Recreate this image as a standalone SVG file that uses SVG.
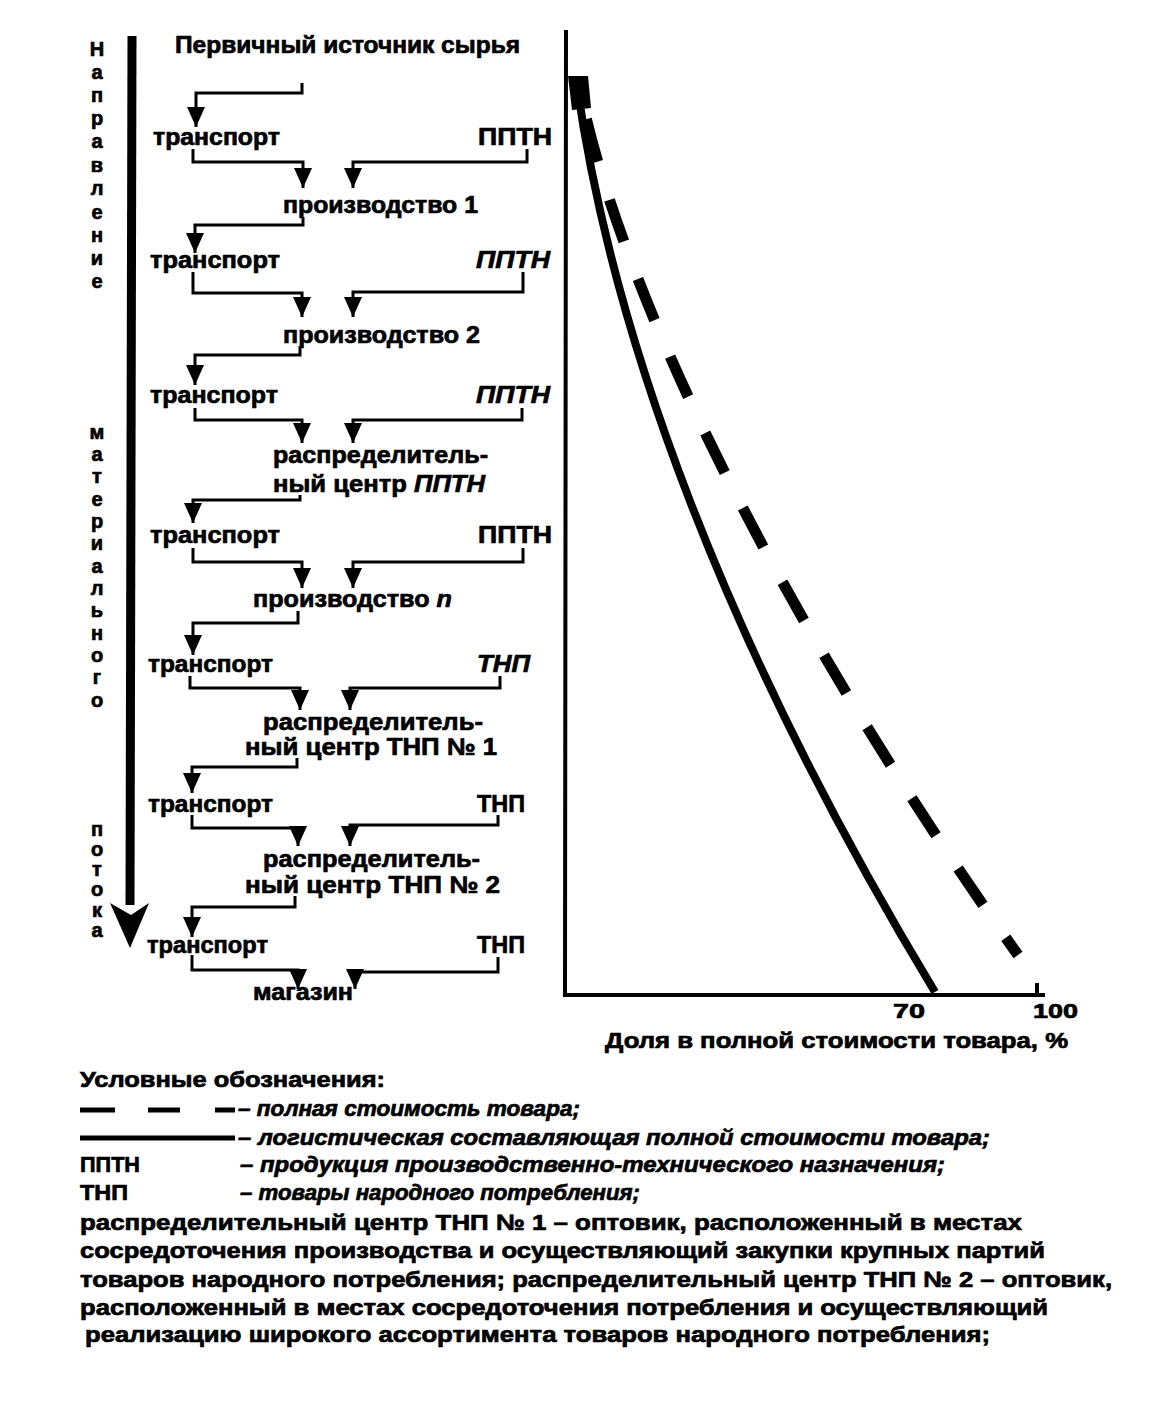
<svg xmlns="http://www.w3.org/2000/svg" width="1175" height="1406" viewBox="0 0 1175 1406">
<defs>
<style>
text{font-family:"Liberation Sans",Arial,sans-serif;font-weight:bold;fill:#000;stroke:#000;stroke-width:0.7}
.t{font-size:24px}
.v{font-size:20px;text-anchor:middle}
.lg{font-size:22px}
.it{font-style:italic}
.c{fill:none;stroke:#000;stroke-width:3;marker-end:url(#ah)}
</style>
<marker id="ah" viewBox="0 0 20 18" refX="20" refY="9" markerWidth="20" markerHeight="18" markerUnits="userSpaceOnUse" orient="auto">
<path d="M0,0 L20,9 L0,18 Z" fill="#000"/>
</marker>
</defs>
<rect width="1175" height="1406" fill="#fff"/>

<g id="flow-direction">
<path d="M132,36 L130,905" stroke="#000" stroke-width="9" fill="none"/>
<path d="M110,903 L130,948 L149,903 L131,915 Z" fill="#000"/>
<text class="v" x="97" y="56">Н</text>
<text class="v" x="97" y="79">а</text>
<text class="v" x="97" y="102">п</text>
<text class="v" x="97" y="125">р</text>
<text class="v" x="97" y="148">а</text>
<text class="v" x="97" y="172">в</text>
<text class="v" x="97" y="195">л</text>
<text class="v" x="97" y="219">е</text>
<text class="v" x="97" y="242">н</text>
<text class="v" x="97" y="265">и</text>
<text class="v" x="97" y="288">е</text>
<text class="v" x="97" y="439">м</text>
<text class="v" x="97" y="461">а</text>
<text class="v" x="97" y="483">т</text>
<text class="v" x="97" y="506">е</text>
<text class="v" x="97" y="528">р</text>
<text class="v" x="97" y="550">и</text>
<text class="v" x="97" y="573">а</text>
<text class="v" x="97" y="595">л</text>
<text class="v" x="97" y="617">ь</text>
<text class="v" x="97" y="640">н</text>
<text class="v" x="97" y="662">о</text>
<text class="v" x="97" y="684">г</text>
<text class="v" x="97" y="707">о</text>
<text class="v" x="97" y="836">п</text>
<text class="v" x="97" y="856">о</text>
<text class="v" x="97" y="876">т</text>
<text class="v" x="97" y="896">о</text>
<text class="v" x="97" y="917">к</text>
<text class="v" x="97" y="937">а</text>
</g>

<g id="connectors">
<path class="c" d="M302,83 V93 H196 V127"/>
<path class="c" d="M193,149 V162 H303 V188"/>
<path class="c" d="M527,149 V162 H353 V188"/>
<path class="c" d="M303,217 V225 H195 V253"/>
<path class="c" d="M193,272 V293 H302 V317"/>
<path class="c" d="M523,272 V292 H353 V317"/>
<path class="c" d="M300,346 V355 H195 V385"/>
<path class="c" d="M195,408 V420 H302 V443"/>
<path class="c" d="M522,408 V420 H353 V443"/>
<path class="c" d="M300,495 V500 H193 V523"/>
<path class="c" d="M193,548 V562 H302 V588"/>
<path class="c" d="M523,548 V562 H353 V588"/>
<path class="c" d="M298,611 V623 H193 V655"/>
<path class="c" d="M190,676 V688 H300 V710"/>
<path class="c" d="M500,676 V688 H350 V710"/>
<path class="c" d="M297,758 V767 H192 V793"/>
<path class="c" d="M192,815 V828 H298 V846"/>
<path class="c" d="M498,815 V825 H350 V846"/>
<path class="c" d="M295,896 V907 H192 V937"/>
<path class="c" d="M192,955 V970 H298 V989"/>
<path class="c" d="M498,957 V972 H355 V989"/>
</g>

<g id="node-source"><text class="t" x="175" y="53" textLength="345" lengthAdjust="spacingAndGlyphs">Первичный источник сырья</text></g>
<g id="node-transport-1"><text class="t" x="153" y="145" textLength="127" lengthAdjust="spacingAndGlyphs">транспорт</text></g>
<g id="node-pptn-1"><text class="t" x="478" y="145" textLength="74" lengthAdjust="spacingAndGlyphs">ППТН</text></g>
<g id="node-prod-1"><text class="t" x="283" y="213" textLength="195" lengthAdjust="spacingAndGlyphs">производство 1</text></g>
<g id="node-transport-2"><text class="t" x="150" y="268" textLength="130" lengthAdjust="spacingAndGlyphs">транспорт</text></g>
<g id="node-pptn-2"><text class="t it" x="476" y="268" textLength="74" lengthAdjust="spacingAndGlyphs">ППТН</text></g>
<g id="node-prod-2"><text class="t" x="283" y="343" textLength="197" lengthAdjust="spacingAndGlyphs">производство 2</text></g>
<g id="node-transport-3"><text class="t" x="150" y="403" textLength="128" lengthAdjust="spacingAndGlyphs">транспорт</text></g>
<g id="node-pptn-3"><text class="t it" x="476" y="403" textLength="74" lengthAdjust="spacingAndGlyphs">ППТН</text></g>
<g id="node-dc-pptn">
<text class="t" x="273" y="463" textLength="215" lengthAdjust="spacingAndGlyphs">распределитель-</text>
<text class="t" x="273" y="492" textLength="212" lengthAdjust="spacingAndGlyphs">ный центр <tspan class="it">ППТН</tspan></text>
</g>
<g id="node-transport-4"><text class="t" x="150" y="543" textLength="130" lengthAdjust="spacingAndGlyphs">транспорт</text></g>
<g id="node-pptn-4"><text class="t" x="478" y="543" textLength="74" lengthAdjust="spacingAndGlyphs">ППТН</text></g>
<g id="node-prod-n"><text class="t" x="253" y="607" textLength="199" lengthAdjust="spacingAndGlyphs">производство <tspan class="it">n</tspan></text></g>
<g id="node-transport-5"><text class="t" x="148" y="672" textLength="125" lengthAdjust="spacingAndGlyphs">транспорт</text></g>
<g id="node-tnp-1"><text class="t it" x="477" y="672" textLength="53" lengthAdjust="spacingAndGlyphs">ТНП</text></g>
<g id="node-dc-tnp1">
<text class="t" x="263" y="730" textLength="220" lengthAdjust="spacingAndGlyphs">распределитель-</text>
<text class="t" x="245" y="755" textLength="252" lengthAdjust="spacingAndGlyphs">ный центр ТНП № 1</text>
</g>
<g id="node-transport-6"><text class="t" x="148" y="812" textLength="125" lengthAdjust="spacingAndGlyphs">транспорт</text></g>
<g id="node-tnp-2"><text class="t" x="477" y="812" textLength="48" lengthAdjust="spacingAndGlyphs">ТНП</text></g>
<g id="node-dc-tnp2">
<text class="t" x="263" y="867" textLength="217" lengthAdjust="spacingAndGlyphs">распределитель-</text>
<text class="t" x="245" y="893" textLength="255" lengthAdjust="spacingAndGlyphs">ный центр ТНП № 2</text>
</g>
<g id="node-transport-7"><text class="t" x="147" y="953" textLength="121" lengthAdjust="spacingAndGlyphs">транспорт</text></g>
<g id="node-tnp-3"><text class="t" x="477" y="953" textLength="48" lengthAdjust="spacingAndGlyphs">ТНП</text></g>
<g id="node-shop"><text class="t" x="253" y="1000" textLength="100" lengthAdjust="spacingAndGlyphs">магазин</text></g>

<g id="chart">
<path d="M566,30 L565,995 L1045,995" fill="none" stroke="#000" stroke-width="4"/>
<path d="M1037,983 V997" stroke="#000" stroke-width="4"/>
<path d="M568,76 L588,76 L591,108 L572,110 Z" fill="#000"/>
<path d="M577,85 C612,335 725,645 935,992" fill="none" stroke="#000" stroke-width="8"/>
<path d="M582,100 C625,300 780,620 1018,955" fill="none" stroke="#000" stroke-width="11" stroke-dasharray="44 40" stroke-dashoffset="-20"/>
<text x="893" y="1018" style="font-size:21px" textLength="32" lengthAdjust="spacingAndGlyphs">70</text>
<text x="1033" y="1018" style="font-size:21px" textLength="45" lengthAdjust="spacingAndGlyphs">100</text>
<text x="605" y="1048" style="font-size:22px" textLength="463" lengthAdjust="spacingAndGlyphs">Доля в полной стоимости товара, %</text>
</g>

<g id="legend">
<text class="lg" x="80" y="1087" textLength="305" lengthAdjust="spacingAndGlyphs">Условные обозначения:</text>
<path d="M80,1110 H115 M148,1110 H180 M215,1110 H235" stroke="#000" stroke-width="5"/>
<text class="lg it" x="238" y="1116" textLength="342" lengthAdjust="spacingAndGlyphs">– полная стоимость товара;</text>
<path d="M80,1138 H235" stroke="#000" stroke-width="5"/>
<text class="lg it" x="238" y="1145" textLength="752" lengthAdjust="spacingAndGlyphs">– логистическая составляющая полной стоимости товара;</text>
<text class="lg" x="80" y="1172" textLength="60" lengthAdjust="spacingAndGlyphs">ППТН</text>
<text class="lg it" x="240" y="1172" textLength="705" lengthAdjust="spacingAndGlyphs">– продукция производственно-технического назначения;</text>
<text class="lg" x="80" y="1200" textLength="48" lengthAdjust="spacingAndGlyphs">ТНП</text>
<text class="lg it" x="240" y="1200" textLength="400" lengthAdjust="spacingAndGlyphs">– товары народного потребления;</text>
<text class="lg" x="80" y="1230" textLength="942" lengthAdjust="spacingAndGlyphs">распределительный центр ТНП № 1 – оптовик,  расположенный в местах</text>
<text class="lg" x="80" y="1258" textLength="965" lengthAdjust="spacingAndGlyphs">сосредоточения производства и осуществляющий закупки крупных партий</text>
<text class="lg" x="80" y="1287" textLength="1032" lengthAdjust="spacingAndGlyphs">товаров народного потребления; распределительный центр ТНП № 2 – оптовик,</text>
<text class="lg" x="80" y="1315" textLength="968" lengthAdjust="spacingAndGlyphs">расположенный в местах сосредоточения потребления и осуществляющий</text>
<text class="lg" x="85" y="1342" textLength="905" lengthAdjust="spacingAndGlyphs">реализацию широкого ассортимента товаров народного потребления;</text>
</g>
</svg>
